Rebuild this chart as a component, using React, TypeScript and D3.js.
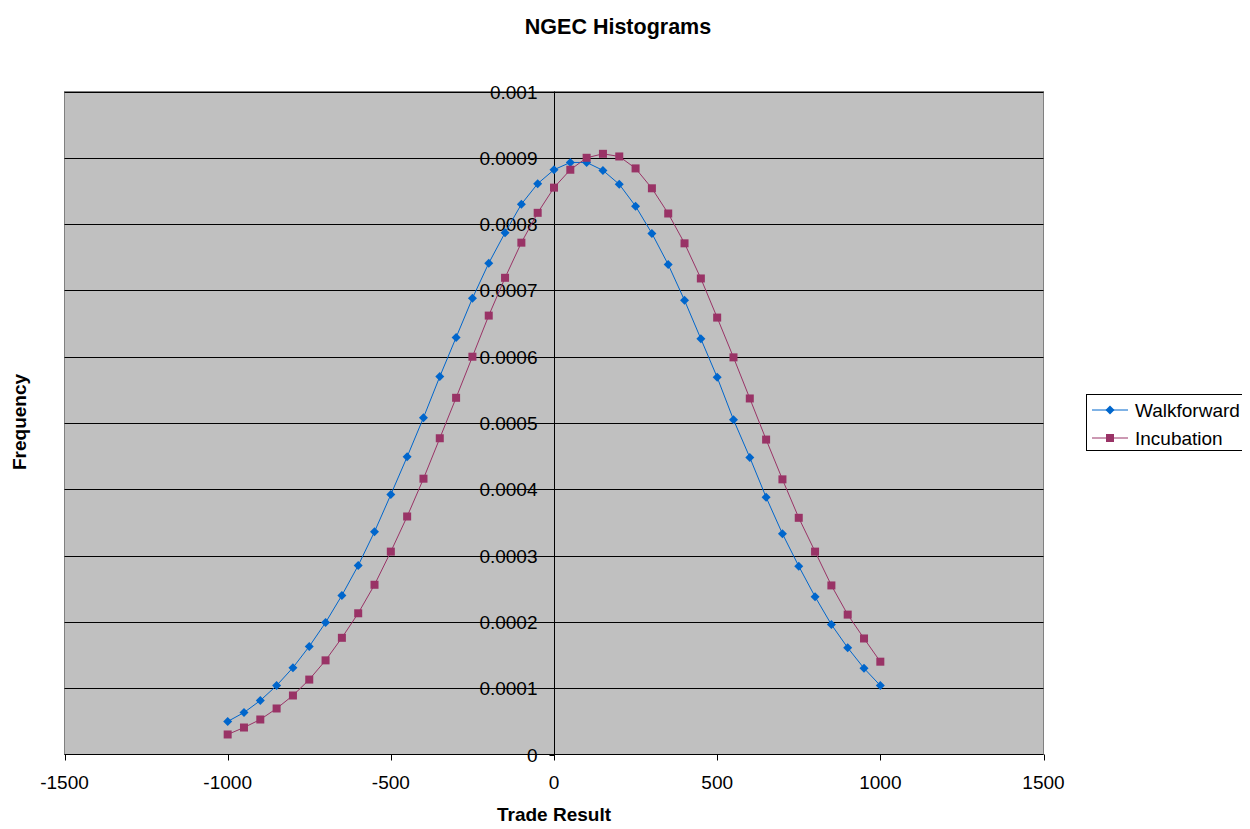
import React, { useRef, useEffect } from 'react';
import * as d3 from 'd3';

const tradeResults = d3.range(-1000, 1001, 50);

const walkforward = [
  0.0000498, 0.0000633, 0.0000814, 0.000104, 0.000131, 0.000163, 0.000199, 0.00024,
  0.000285, 0.000336, 0.000392, 0.000449, 0.000508, 0.00057, 0.000629, 0.000688,
  0.000741, 0.000787, 0.00083, 0.000861, 0.000882, 0.000893, 0.000893, 0.000881,
  0.00086, 0.000827, 0.000786, 0.000739, 0.000685, 0.000627, 0.000569, 0.000505,
  0.000448, 0.000388, 0.000333, 0.000284, 0.000238, 0.000196, 0.000161, 0.00013,
  0.000104,
];

const incubation = [
  0.0000302, 0.0000407, 0.0000528, 0.0000694, 0.000089, 0.000113, 0.000142, 0.000176,
  0.000213, 0.000256, 0.000306, 0.000359, 0.000416, 0.000477, 0.000538, 0.0006,
  0.000662, 0.000719, 0.000772, 0.000817, 0.000855, 0.000882, 0.0009, 0.000906,
  0.000902, 0.000884, 0.000854, 0.000816, 0.000771, 0.000718, 0.000659, 0.000599,
  0.000537, 0.000475, 0.000415, 0.000357, 0.000306, 0.000255, 0.000211, 0.000175,
  0.00014,
];

const xTicks = [-1500, -1000, -500, 0, 500, 1000, 1500];
const yTicks = d3.range(0, 11).map((i) => i * 0.0001);
const yTickLabels = ['0', '0.0001', '0.0002', '0.0003', '0.0004', '0.0005', '0.0006', '0.0007', '0.0008', '0.0009', '0.001'];

const series = [
  { name: 'Walkforward', values: walkforward, color: '#0066CC', marker: 'diamond' },
  { name: 'Incubation', values: incubation, color: '#993366', marker: 'square' },
];

const width = 1250;
const height = 829;
const font = '"Liberation Sans", Arial, sans-serif';

const App: React.FC = () => {
  const svgRef = useRef<SVGSVGElement>(null);

  useEffect(() => {
    if (!svgRef.current) return;
    const svg = d3.select(svgRef.current);
    svg.selectAll('*').remove();

    const plot = { left: 64.5, right: 1043.5, top: 91.5, bottom: 754.5 };

    const x = d3.scaleLinear().domain([-1500, 1500]).range([plot.left, plot.right]);
    const y = d3.scaleLinear().domain([0, 0.001]).range([plot.bottom, plot.top]);

    svg.append('rect').attr('width', width).attr('height', height).attr('fill', '#ffffff');

    // plot area
    svg
      .append('rect')
      .attr('x', plot.left)
      .attr('y', plot.top)
      .attr('width', plot.right - plot.left)
      .attr('height', plot.bottom - plot.top)
      .attr('fill', '#C0C0C0')
      .attr('stroke', '#808080')
      .attr('stroke-width', 1);

    // gridlines
    svg
      .append('g')
      .selectAll('line')
      .data(yTicks.slice(1))
      .enter()
      .append('line')
      .attr('x1', plot.left)
      .attr('x2', plot.right)
      .attr('y1', (d) => Math.round(y(d)) + 0.5)
      .attr('y2', (d) => Math.round(y(d)) + 0.5)
      .attr('stroke', '#000000')
      .attr('stroke-width', 1);

    // x axis
    const x0 = Math.round(x(0)) + 0.5;
    svg
      .append('line')
      .attr('x1', plot.left)
      .attr('x2', plot.right)
      .attr('y1', plot.bottom)
      .attr('y2', plot.bottom)
      .attr('stroke', '#000');

    svg
      .append('g')
      .selectAll('line')
      .data(xTicks)
      .enter()
      .append('line')
      .attr('x1', (d) => Math.round(x(d)) + 0.5)
      .attr('x2', (d) => Math.round(x(d)) + 0.5)
      .attr('y1', plot.bottom)
      .attr('y2', plot.bottom + 6)
      .attr('stroke', '#000');

    svg
      .append('g')
      .selectAll('text')
      .data(xTicks)
      .enter()
      .append('text')
      .attr('x', (d) => x(d))
      .attr('y', 789)
      .attr('text-anchor', 'middle')
      .attr('font-family', font)
      .attr('font-size', '19px')
      .attr('fill', '#000')
      .text((d) => String(d));

    // y axis at x = 0
    svg
      .append('line')
      .attr('x1', x0)
      .attr('x2', x0)
      .attr('y1', plot.top)
      .attr('y2', plot.bottom)
      .attr('stroke', '#000');

    svg
      .append('g')
      .selectAll('line')
      .data(yTicks)
      .enter()
      .append('line')
      .attr('x1', x0 - 5)
      .attr('x2', x0)
      .attr('y1', (d) => Math.round(y(d)) + 0.5)
      .attr('y2', (d) => Math.round(y(d)) + 0.5)
      .attr('stroke', '#000');

    svg
      .append('g')
      .selectAll('text')
      .data(yTicks)
      .enter()
      .append('text')
      .attr('x', x0 - 17)
      .attr('y', (d) => y(d) + 7)
      .attr('text-anchor', 'end')
      .attr('font-family', font)
      .attr('font-size', '19px')
      .attr('fill', '#000')
      .text((d, i) => yTickLabels[i]);

    // series
    const line = d3
      .line<number>()
      .x((d, i) => x(tradeResults[i]))
      .y((d) => y(d));

    const drawMarker = (g: any, kind: string, color: string, cx: number, cy: number) => {
      if (kind === 'diamond') {
        g.append('path')
          .attr('d', `M${cx},${cy - 4.5}L${cx + 4.5},${cy}L${cx},${cy + 4.5}L${cx - 4.5},${cy}Z`)
          .attr('fill', color);
      } else {
        g.append('rect')
          .attr('x', cx - 4)
          .attr('y', cy - 4)
          .attr('width', 8)
          .attr('height', 8)
          .attr('fill', color);
      }
    };

    series.forEach((s) => {
      const g = svg.append('g');
      g.append('path')
        .datum(s.values)
        .attr('d', line)
        .attr('fill', 'none')
        .attr('stroke', s.color)
        .attr('stroke-width', 1);
      s.values.forEach((v, i) => drawMarker(g, s.marker, s.color, x(tradeResults[i]), y(v)));
    });

    // titles
    svg
      .append('text')
      .attr('x', 618)
      .attr('y', 34)
      .attr('text-anchor', 'middle')
      .attr('font-family', font)
      .attr('font-weight', 'bold')
      .attr('font-size', '21.5px')
      .attr('fill', '#000')
      .text('NGEC Histograms');

    svg
      .append('text')
      .attr('x', 554)
      .attr('y', 821)
      .attr('text-anchor', 'middle')
      .attr('font-family', font)
      .attr('font-weight', 'bold')
      .attr('font-size', '19px')
      .attr('fill', '#000')
      .text('Trade Result');

    svg
      .append('text')
      .attr('transform', 'translate(26,422) rotate(-90)')
      .attr('text-anchor', 'middle')
      .attr('font-family', font)
      .attr('font-weight', 'bold')
      .attr('font-size', '19px')
      .attr('fill', '#000')
      .text('Frequency');

    // legend
    const legend = svg.append('g');
    legend
      .append('rect')
      .attr('x', 1086.5)
      .attr('y', 394.5)
      .attr('width', 156)
      .attr('height', 56)
      .attr('fill', '#ffffff')
      .attr('stroke', '#000')
      .attr('stroke-width', 1);
    legend
      .append('rect')
      .attr('x', 1243)
      .attr('y', 413)
      .attr('width', 5)
      .attr('height', 6)
      .attr('fill', '#000');

    series.forEach((s, i) => {
      const ly = 410 + i * 28;
      legend
        .append('line')
        .attr('x1', 1092)
        .attr('x2', 1128)
        .attr('y1', ly)
        .attr('y2', ly)
        .attr('stroke', s.color);
      drawMarker(legend, s.marker, s.color, 1110, ly);
      legend
        .append('text')
        .attr('x', 1135)
        .attr('y', ly + 7)
        .attr('font-family', font)
        .attr('font-size', '19px')
        .attr('fill', '#000')
        .text(s.name);
    });
  }, []);

  return <svg ref={svgRef} width={width} height={height} style={{ display: 'block', margin: -8 }} />;
};

export default App;
